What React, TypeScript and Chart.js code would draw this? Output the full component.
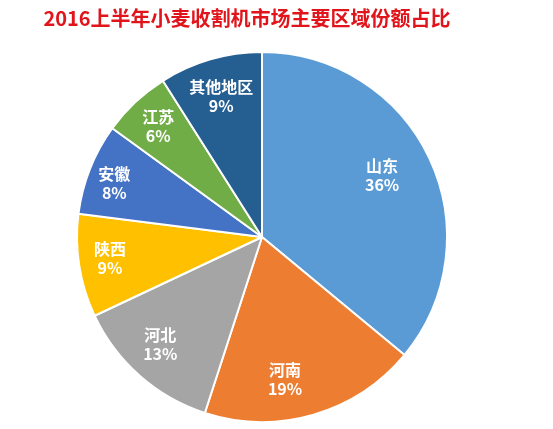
import React, { useEffect, useRef } from "react";
import { Chart, registerables } from "chart.js";

Chart.register(...registerables);

const TITLE = "2016上半年小麦收割机市场主要区域份额占比";
const regions = ["山东", "河南", "河北", "陕西", "安徽", "江苏", "其他地区"];
const shares = [36, 19, 13, 9, 8, 6, 9];
const colors = ["#5B9BD5", "#ED7D31", "#A5A5A5", "#FFC000", "#4472C4", "#70AD47", "#255E91"];
const labelRadius = [0.73, 0.78, 0.8, 0.83, 0.85, 0.82, 0.79];
const labelAngleShift = [-2, 7, 2, 1, -1.5, 0, 0];

const labelPlugin = {
  id: "sliceLabels",
  afterDatasetsDraw(chart: any) {
    const ctx = chart.ctx;
    const meta = chart.getDatasetMeta(0);
    ctx.save();
    ctx.fillStyle = "#FFFFFF";
    ctx.textAlign = "center";
    ctx.textBaseline = "middle";
    ctx.font = "bold 16px 'Noto Sans CJK SC', 'Noto Sans', sans-serif";
    meta.data.forEach((arc: any, i: number) => {
      const p = arc.getProps(["x", "y", "startAngle", "endAngle", "outerRadius"], true);
      const mid = (p.startAngle + p.endAngle) / 2 + (labelAngleShift[i] * Math.PI) / 180;
      const r = p.outerRadius * labelRadius[i];
      const x = p.x + Math.cos(mid) * r;
      const y = p.y + Math.sin(mid) * r;
      ctx.fillText(regions[i], x, y - 9.5);
      ctx.fillText(shares[i] + "%", x, y + 9.5);
    });
    ctx.restore();
  },
};

const titlePlugin = {
  id: "customTitle",
  afterDraw(chart: any) {
    const ctx = chart.ctx;
    ctx.save();
    ctx.fillStyle = "#E1141B";
    ctx.textAlign = "center";
    ctx.textBaseline = "middle";
    ctx.font = "bold 20px 'Noto Sans CJK SC', 'Noto Sans', sans-serif";
    ctx.fillText(TITLE, 247, 18);
    ctx.restore();
  },
};

export default function App() {
  const ref = useRef<HTMLCanvasElement | null>(null);
  useEffect(() => {
    document.body.style.margin = "0";
    const chart = new Chart(ref.current as HTMLCanvasElement, {
      type: "pie",
      data: {
        labels: regions,
        datasets: [
          {
            data: shares,
            backgroundColor: colors,
            borderColor: "#FFFFFF",
            borderWidth: 2,
            hoverOffset: 0,
          },
        ],
      },
      options: {
        animation: false,
        responsive: false,
        maintainAspectRatio: false,
        layout: { padding: { left: 76, top: 51, right: 105, bottom: 6 } },
        plugins: {
          legend: { display: false },
          title: { display: false },
          tooltip: { enabled: false },
        },
      },
      plugins: [labelPlugin, titlePlugin],
    });
    return () => chart.destroy();
  }, []);
  return (
    <div style={{ width: 553, height: 429, background: "#FFFFFF" }}>
      <canvas ref={ref} width={553} height={429} />
    </div>
  );
}
